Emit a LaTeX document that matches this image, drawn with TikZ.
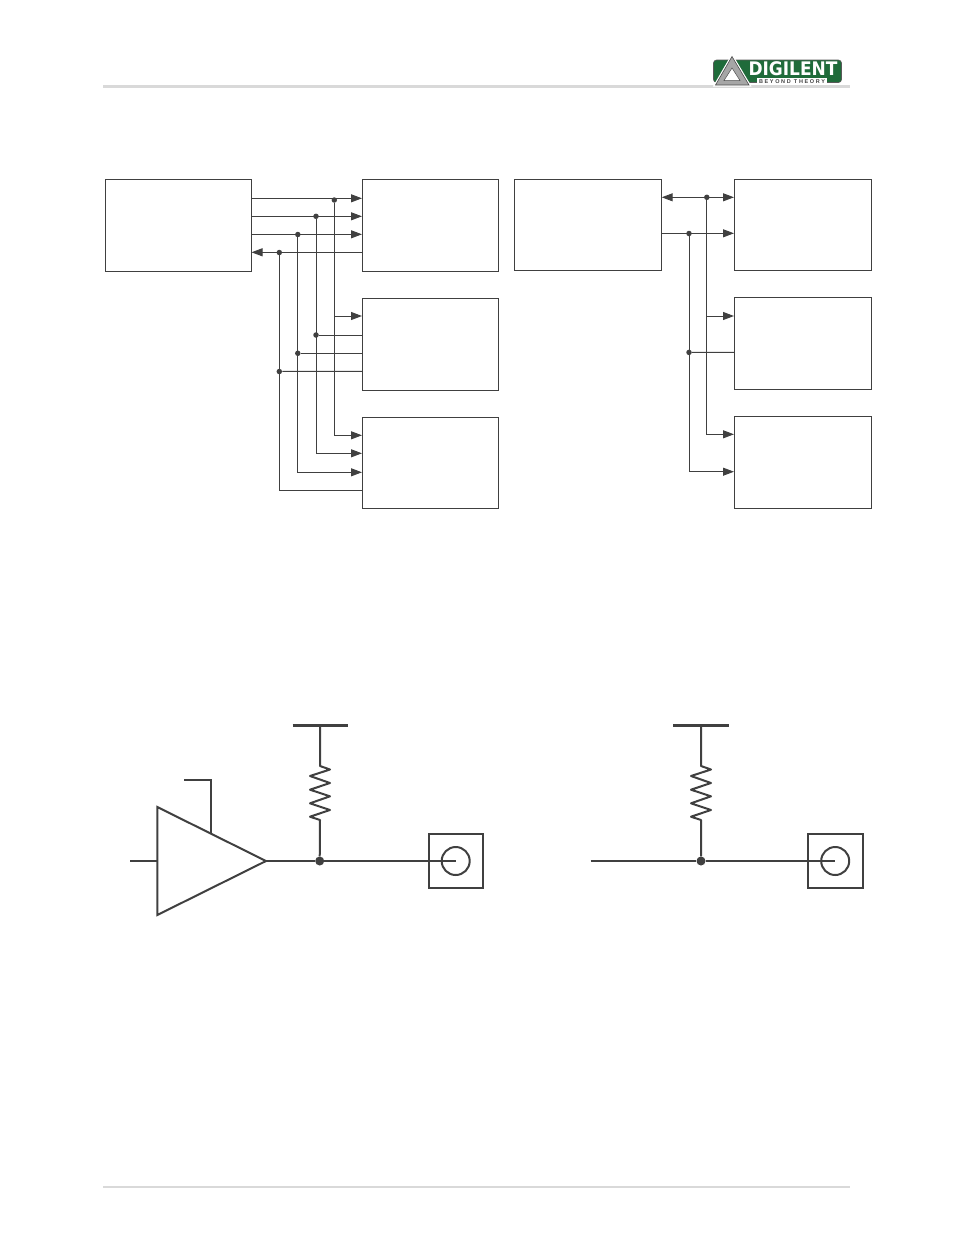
\documentclass[tikz,border=0pt]{standalone}
\usepackage{fontspec}
\setmainfont{Liberation Sans}
\newfontfamily\logofont{DejaVu Sans}
\usepackage{xcolor}
\usetikzlibrary{arrows.meta}
\definecolor{trait}{HTML}{404040}
\definecolor{filet}{HTML}{D9D9D9}
\definecolor{vert}{HTML}{1F6B3A}
\tikzset{
  bloc/.style={draw=trait, line width=1pt, inner sep=0pt, minimum height=#1},
  bloc/.default=92pt,
  liaison/.style={draw=trait, line width=1pt, >={Triangle[length=11pt,width=8pt]}},
  point/.style={circle, fill=trait, inner sep=0pt, minimum size=#1},
  point/.default=5.5pt,
  schema/.style={draw=trait, line width=2pt},
  rail/.style={draw=trait, line width=3pt}
}

\begin{document}
\begin{tikzpicture}[x=1pt,y=-1pt]
  \useasboundingbox (0,0) rectangle (954,1235);

  % Filets de page
  \coordinate (hautg) at (103,86.5);
  \coordinate (hautd) at (850,86.5);
  \coordinate (basg) at (103,1187);
  \coordinate (basd) at (850,1187);
  \draw[filet, line width=3pt] (hautg) -- (hautd);
  \draw[filet, line width=2pt] (basg) -- (basd);

  % Logo
  \filldraw[fill=vert, draw=black!65, line width=0.6pt, rounded corners=3pt] (713.5,60) rectangle (841.5,82.5);
  \fill[white] (757,78) rectangle (827,85);
  \filldraw[fill=gray!70!white, draw=black!70, line width=0.6pt, preaction={draw=white, line width=3pt}] (732,56.5) -- (749,85) -- (715.5,85) -- cycle;
  \filldraw[fill=white, draw=black!70, line width=0.5pt] (732,68) -- (740,80.5) -- (724,80.5) -- cycle;
  \node[white, inner sep=0pt] (nomlogo) at (793,69)
    {\scalebox{1}[1.1]{\logofont\bfseries\fontsize{17}{18}\selectfont DIGILENT}};
  \node[trait, inner sep=0pt] (devise) at (792,81.3)
    {\bfseries\addfontfeature{LetterSpace=30}\fontsize{5.5}{6}\selectfont BEYOND THEORY};

  % Blocs du premier bus
  \node[bloc, minimum width=146pt] (maitreA) at (178.5,225.5) {};
  \node[bloc, minimum width=136pt] (escA) at (430.5,225.5) {};
  \node[bloc, minimum width=136pt] (escB) at (430.5,344.3) {};
  \node[bloc=91pt, minimum width=136pt] (escC) at (430.5,462.8) {};

  \coordinate (m1) at (251.5,198.3);
  \coordinate (m2) at (251.5,216.3);
  \coordinate (m3) at (251.5,234.3);
  \coordinate (m4) at (251.5,252.3);
  \coordinate (a1) at (362,198.3);
  \coordinate (a2) at (362,216.3);
  \coordinate (a3) at (362,234.3);
  \coordinate (a4) at (362,252.3);
  \coordinate (b1) at (362,316);
  \coordinate (b2) at (362,335);
  \coordinate (b3) at (362,353.3);
  \coordinate (b4) at (362,371.3);
  \coordinate (c1) at (362,435.3);
  \coordinate (c2) at (362,453.3);
  \coordinate (c3) at (362,472.3);
  \coordinate (c4) at (362,490.3);

  % Jonctions
  \node[point] (j1) at (334.3,200) {};
  \node[point] (j2) at (316,216.3) {};
  \node[point] (j3) at (297.8,234.5) {};
  \node[point] (j4) at (279.3,252.5) {};
  \node[point] (k2) at (316,335) {};
  \node[point] (k3) at (297.8,353.3) {};
  \node[point] (k4) at (279.3,371.5) {};
  \coordinate (t1) at (334.3,316);

  % Liaisons
  \draw[liaison, ->] (m1) -- (a1);
  \draw[liaison, ->] (m2) -- (a2);
  \draw[liaison, ->] (m3) -- (a3);
  \draw[liaison, ->] (a4) -- (m4);
  \draw[liaison, ->] (t1) -- (b1);
  \draw[liaison] (k2) -- (b2);
  \draw[liaison] (k3) -- (b3);
  \draw[liaison] (k4) -- (b4);
  \draw[liaison, ->] (j1) |- (c1);
  \draw[liaison, ->] (j2) |- (c2);
  \draw[liaison, ->] (j3) |- (c3);
  \draw[liaison] (j4) |- (c4);

  % Blocs du second bus
  \node[bloc=91pt, minimum width=147pt] (maitreB) at (588,224.8) {};
  \node[bloc=91pt, minimum width=137pt] (escD) at (803,224.8) {};
  \node[bloc=92pt, minimum width=137pt] (escE) at (803,343.3) {};
  \node[bloc=92pt, minimum width=137pt] (escF) at (803,462.3) {};

  \coordinate (n1) at (661.7,197.3);
  \coordinate (n2) at (661.7,233.3);
  \coordinate (d1) at (734,197.3);
  \coordinate (d2) at (734,233.3);
  \coordinate (e1) at (734,316);
  \coordinate (e2) at (734,352.3);
  \coordinate (f1) at (734,434.3);
  \coordinate (f2) at (734,471.7);

  \node[point] (j5) at (706.8,197.3) {};
  \node[point] (j6) at (689,233.5) {};
  \node[point] (k6) at (689,352.4) {};
  \coordinate (t5) at (707.3,316);

  \draw[liaison, <->] (n1) -- (d1);
  \draw[liaison, ->] (n2) -- (d2);
  \draw[liaison, ->] (t5) -- (e1);
  \draw[liaison] (k6) -- (e2);
  \draw[liaison, ->] (j5) |- (f1);
  \draw[liaison, ->] (j6) |- (f2);

  % Premier montage : tampon, tirage et broche
  \coordinate (tamponh) at (157.3,807);
  \coordinate (tamponb) at (157.3,915);
  \coordinate (sortie) at (266,861);
  \draw[schema] (tamponh) -- (sortie) -- (tamponb) -- cycle;
  \coordinate (entree) at (130,861);
  \coordinate (entreeb) at (157.3,861);
  \draw[schema] (entree) -- (entreeb);
  \coordinate (valid) at (184,780);
  \coordinate (validb) at (211,833);
  \draw[schema] (valid) -| (validb);

  \coordinate (railg) at (292.5,725.3);
  \coordinate (raild) at (348,725.3);
  \coordinate (railm) at (320,725.3);
  \draw[rail] (railg) -- (raild);
  \node[point=9pt] (j7) at (319.7,861) {};
  \draw[schema, line join=round] (railm) -- (320,766) -- (330,769.5) -- (310,776) -- (330,783) -- (310,789.7)
    -- (330,796.3) -- (310,803.3) -- (330,810) -- (310,816.7) -- (320,820) -- (j7);

  \node[draw=trait, line width=2pt, minimum size=54.5pt, inner sep=0pt] (broche) at (456,861) {};
  \node[draw=trait, line width=2pt, circle, minimum size=28pt, inner sep=0pt] (anneau) at (455.7,861) {};
  \draw[schema] (sortie) -- (j7) -- (anneau.center);

  % Second montage : tirage et broche
  \coordinate (railg2) at (673.3,725.3);
  \coordinate (raild2) at (728.7,725.3);
  \coordinate (railm2) at (701,725.3);
  \draw[rail] (railg2) -- (raild2);
  \node[point=9pt] (j8) at (701,861) {};
  \draw[schema, line join=round] (railm2) -- (701,766) -- (711,769.5) -- (691,776) -- (711,783) -- (691,789.7)
    -- (711,796.3) -- (691,803.3) -- (711,810) -- (691,816.7) -- (701,820) -- (j8);

  \node[draw=trait, line width=2pt, minimum size=54.5pt, inner sep=0pt] (broche2) at (835.5,861) {};
  \node[draw=trait, line width=2pt, circle, minimum size=28pt, inner sep=0pt] (anneau2) at (835.2,861) {};
  \coordinate (entree2) at (590.7,861);
  \draw[schema] (entree2) -- (j8) -- (anneau2.center);
\end{tikzpicture}
\end{document}
